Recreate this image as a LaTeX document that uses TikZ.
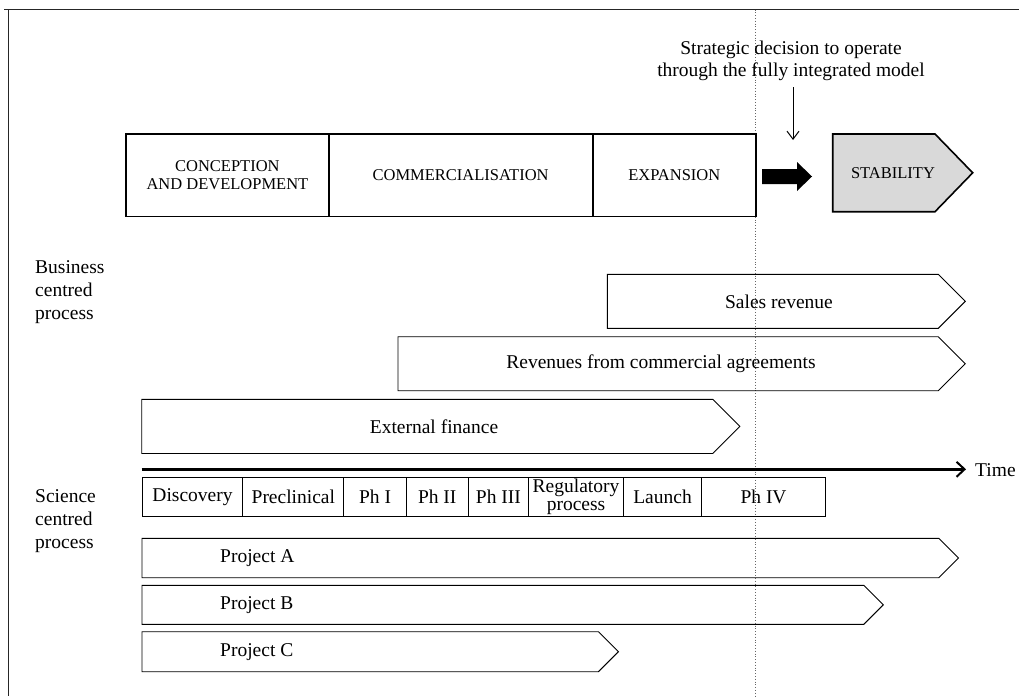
\documentclass[tikz,border=0pt]{standalone}
\usepackage{fontspec}
\setmainfont{Liberation Serif}
\usetikzlibrary{arrows.meta}

% chevron outline: left x, shoulder x, top y, bottom y (tip depth = half height)
\newcommand\chevronpath[4]{%
  \draw[chevline] (#1,#3) -- (#2,#3) -- ({#2+(#4-#3)/2},{(#3+#4)/2})
    -- (#2,#4) -- (#1,#4) -- cycle;}

\begin{document}
\begin{tikzpicture}[x=1pt,y=-1pt,
  every node/.style={font=\fontsize{19.5}{22}\selectfont, inner sep=0pt},
  stagebox/.style={draw, line width=1.8pt, minimum height=82.5pt, anchor=west,
    align=center, font=\fontsize{16.5}{18.7}\selectfont},
  cell/.style={draw, line width=1.1pt, minimum height=38.7pt, anchor=west,
    align=center, font=\fontsize{19.5}{18}\selectfont},
  chevline/.style={line width=0.9pt},
  sidelbl/.style={anchor=west, align=left, font=\fontsize{19.5}{23}\selectfont}]

\useasboundingbox (0,0) rectangle (1019,696);

% frame (top and left edges)
\draw[line width=1.3pt, black!85] (4,9.5) -- (1019,9.5);
\draw[line width=1.3pt, black!85] (8.5,9.5) -- (8.5,696);

% decision marker
\draw[black!60, dotted, line width=0.8pt] (755.5,9.5) -- (755.5,696);

% development stages
\node[stagebox, minimum width=202.4pt] (conc) at (125.3,175.3) {CONCEPTION\\AND DEVELOPMENT};
\node[stagebox, minimum width=264pt] (comm) at (327.7,175.3) {COMMERCIALISATION};
\node[stagebox, minimum width=163.3pt] (expn) at (591.7,175.3) {EXPANSION};

% transition arrow
\fill (762,169) -- (797,169) -- (797,162) -- (812,176.5) -- (797,191)
  -- (797,184) -- (762,184) -- cycle;

% stability chevron
\filldraw[fill=black!15, line width=1.6pt] (832.7,134) -- (935,134) -- (972.7,172.8)
  -- (935,211.7) -- (832.7,211.7) -- cycle;
\node[font=\fontsize{16.5}{18.7}\selectfont] (stab) at (893,172.7) {STABILITY};

% strategic decision note
\node[align=center] (note) at (791,61) {Strategic decision to operate\\through the fully integrated model};
\coordinate (noteend) at (793,140);
\draw[line width=1pt, -{Straight Barb[length=8pt,width=12pt,line width=1pt]}]
  (793,87) -- (noteend);

% side labels
\node[sidelbl] (busi) at (35,292.5) {Business\\centred\\process};
\node[sidelbl] (sci) at (35,521.5) {Science\\centred\\process};

% business-centred flows
\chevronpath{607.3}{938.3}{274.3}{328.3}
\node (sales) at (779,302) {Sales revenue};
\chevronpath{398}{938.3}{336.7}{390.7}
\node (rev) at (661,364) {Revenues from commercial agreements};
\chevronpath{141.7}{712.7}{399.3}{453.5}
\node (ext) at (434,427) {External finance};

% time axis
\coordinate (t0) at (141.7,469.3);
\coordinate (t1) at (966,469.3);
\draw[line width=2.4pt, -{Straight Barb[length=8pt,width=15pt,line width=2pt]}] (t0) -- (t1);
\node[anchor=west] (time) at (975,470) {Time};

% science-centred phases
\node[cell, minimum width=100.6pt] (disc) at (141.7,496.7) {Discovery};
\node[cell, minimum width=101pt] (prec) at (242.3,496.7) {Preclinical};
\node[cell, minimum width=62.4pt] (ph1) at (343.3,496.7) {Ph I};
\node[cell, minimum width=62pt] (ph2) at (405.7,496.7) {Ph II};
\node[cell, minimum width=60.3pt] (ph3) at (467.7,496.7) {Ph III};
\node[cell, minimum width=95pt] (reg) at (528,496.7) {Regulatory\\process};
\node[cell, minimum width=78pt] (laun) at (623,496.7) {Launch};
\node[cell, minimum width=124pt] (ph4) at (701,496.7) {Ph IV};

% projects
\chevronpath{142}{938.7}{538.3}{577.7}
\node[anchor=west] (pa) at (220,558) {Project A};
\chevronpath{142}{863.8}{585.3}{624.3}
\node[anchor=west] (pb) at (220,605) {Project B};
\chevronpath{142}{598.4}{631.7}{671.7}
\node[anchor=west] (pc) at (220,652) {Project C};

\end{tikzpicture}
\end{document}
